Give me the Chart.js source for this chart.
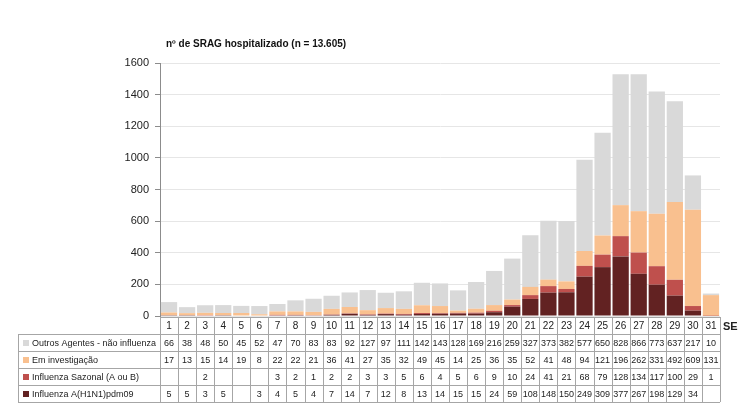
<!DOCTYPE html>
<html>
<head>
<meta charset="utf-8">
<script src="https://cdn.jsdelivr.net/npm/chart.js@4/dist/chart.umd.min.js"></script>
<style>
  html, body { margin: 0; padding: 0; background: #fff; }
  #wrap { width: 750px; height: 413px; }
</style>
</head>
<body>
<div id="wrap"><canvas id="SragChart"></canvas></div>
<script>
const weeks = ['1','2','3','4','5','6','7','8','9','10','11','12','13','14','15','16','17','18','19','20','21','22','23','24','25','26','27','28','29','30','31'];

const outros = [66,38,48,50,45,52,47,70,83,83,92,127,97,111,142,143,128,169,216,259,327,373,382,577,650,828,866,773,637,217,10];
const investigacao = [17,13,15,14,19,8,22,22,21,36,41,27,35,32,49,45,14,25,36,35,52,41,48,94,121,196,262,331,492,609,131];
const sazonal = [null,null,2,null,null,null,3,2,1,2,2,3,3,5,6,4,5,6,9,10,24,41,21,68,79,128,134,117,100,29,1];
const h1n1 = [5,5,3,5,null,3,4,5,4,7,14,7,12,8,13,14,15,15,24,59,108,148,150,249,309,377,267,198,129,34,null];

const yTicks = [0,200,400,600,800,1000,1200,1400,1600];

const chartTitle = 'nº de SRAG hospitalizado (n = 13.605)';

// table rows go top-down, the stack goes bottom-up
const tableRows = [
    {label: 'Outros Agentes - não influenza', data: outros, color: '#d9d9d9'},
    {label: 'Em investigação', data: investigacao, color: '#f9c08f'},
    {label: 'Influenza Sazonal (A ou B)', data: sazonal, color: '#bf504d'},
    {label: 'Influenza A(H1N1)pdm09', data: h1n1, color: '#622222'},
];

const dataset = tableRows.slice().reverse().map(r => ({
    label: r.label,
    data: r.data,
    backgroundColor: r.color,
    borderWidth: 0,
    categoryPercentage: 0.9,
    barPercentage: 1.0,
}));

const tablePlugin = {
    id: 'dataTable',
    afterDraw(chart) {
        const ctx = chart.ctx;
        const area = chart.chartArea;
        const x = chart.scales.x;
        const colW = area.width / weeks.length;
        const rowH = 17;
        const top = area.bottom + 1;
        const labelLeft = 18;
        const bottom = top + rowH * (tableRows.length + 1);

        ctx.save();

        // title
        ctx.fillStyle = '#111';
        ctx.font = 'bold 10px "Liberation Sans", Arial, sans-serif';
        ctx.textAlign = 'left';
        ctx.textBaseline = 'middle';
        ctx.fillText(chartTitle, area.left + 6, 44);

        ctx.strokeStyle = '#a6a6a6';
        ctx.lineWidth = 1;

        // horizontal lines
        ctx.beginPath();
        ctx.moveTo(area.left, top + 0.5);
        ctx.lineTo(area.right, top + 0.5);
        for (let r = 1; r <= tableRows.length + 1; r++) {
            const y = Math.round(top + r * rowH) + 0.5;
            ctx.moveTo(labelLeft, y);
            ctx.lineTo(area.right, y);
        }
        // vertical lines
        for (let i = 0; i <= weeks.length; i++) {
            const xx = Math.round(area.left + i * colW) + 0.5;
            ctx.moveTo(xx, top);
            ctx.lineTo(xx, bottom);
        }
        ctx.moveTo(labelLeft + 0.5, top + rowH);
        ctx.lineTo(labelLeft + 0.5, bottom);
        ctx.stroke();

        // week numbers
        ctx.fillStyle = '#222';
        ctx.font = '10px "Liberation Sans", Arial, sans-serif';
        ctx.textAlign = 'center';
        weeks.forEach((w, i) => {
            ctx.fillText(w, x.getPixelForValue(i), top + rowH / 2 + 1);
        });
        ctx.font = 'bold 11px "Liberation Sans", Arial, sans-serif';
        ctx.textAlign = 'left';
        ctx.fillText('SE', area.right + 3, top + rowH / 2 + 1);

        // rows
        tableRows.forEach((row, r) => {
            const cy = top + (r + 1) * rowH + rowH / 2 + 1;
            ctx.fillStyle = row.color;
            ctx.fillRect(labelLeft + 5, cy - 3.5, 6, 6);
            ctx.fillStyle = '#222';
            ctx.font = '9px "Liberation Sans", Arial, sans-serif';
            ctx.textAlign = 'left';
            const maxW = area.left - labelLeft - 18;
            const w = ctx.measureText(row.label).width;
            if (w > maxW) {
                ctx.save();
                ctx.translate(labelLeft + 14, cy);
                ctx.scale(maxW / w, 1);
                ctx.fillText(row.label, 0, 0);
                ctx.restore();
            } else {
                ctx.fillText(row.label, labelLeft + 14, cy);
            }
            ctx.textAlign = 'center';
            row.data.forEach((v, i) => {
                if (v === null) return;
                const s = String(v);
                const xc = x.getPixelForValue(i);
                const tw = ctx.measureText(s).width;
                if (tw > colW - 2) {
                    ctx.save();
                    ctx.translate(xc, cy);
                    ctx.scale((colW - 2) / tw, 1);
                    ctx.fillText(s, 0, 0);
                    ctx.restore();
                } else {
                    ctx.fillText(s, xc, cy);
                }
            });
        });

        ctx.restore();
    }
};

new Chart(
    document.getElementById('SragChart'),
    {
        type: 'bar',
        data: {
            labels: weeks,
            datasets: dataset,
        },
        options: {
            responsive: true,
            maintainAspectRatio: false,
            animation: false,
            layout: {
                padding: {top: 63, right: 30, bottom: 97, left: 0}
            },
            scales: {
                x: {
                    stacked: true,
                    display: false,
                    grid: {display: false},
                },
                y: {
                    stacked: true,
                    min: 0,
                    max: 1600,
                    afterBuildTicks: (scale) => {
                        scale.ticks = yTicks.map(v => ({value: v}));
                    },
                    afterFit: (scale) => {
                        scale.width = 160;
                    },
                    border: {display: true, color: '#8c8c8c'},
                    grid: {
                        color: '#e6e6e6',
                        tickColor: '#8c8c8c',
                        tickLength: 5,
                    },
                    ticks: {
                        color: '#222',
                        padding: 6,
                        font: {size: 11, family: '"Liberation Sans", Arial, sans-serif'},
                        callback: (value) => String(value),
                    },
                },
            },
            plugins: {
                legend: {display: false},
                tooltip: {enabled: false},
            },
        },
        plugins: [tablePlugin],
    }
);
</script>
</body>
</html>
